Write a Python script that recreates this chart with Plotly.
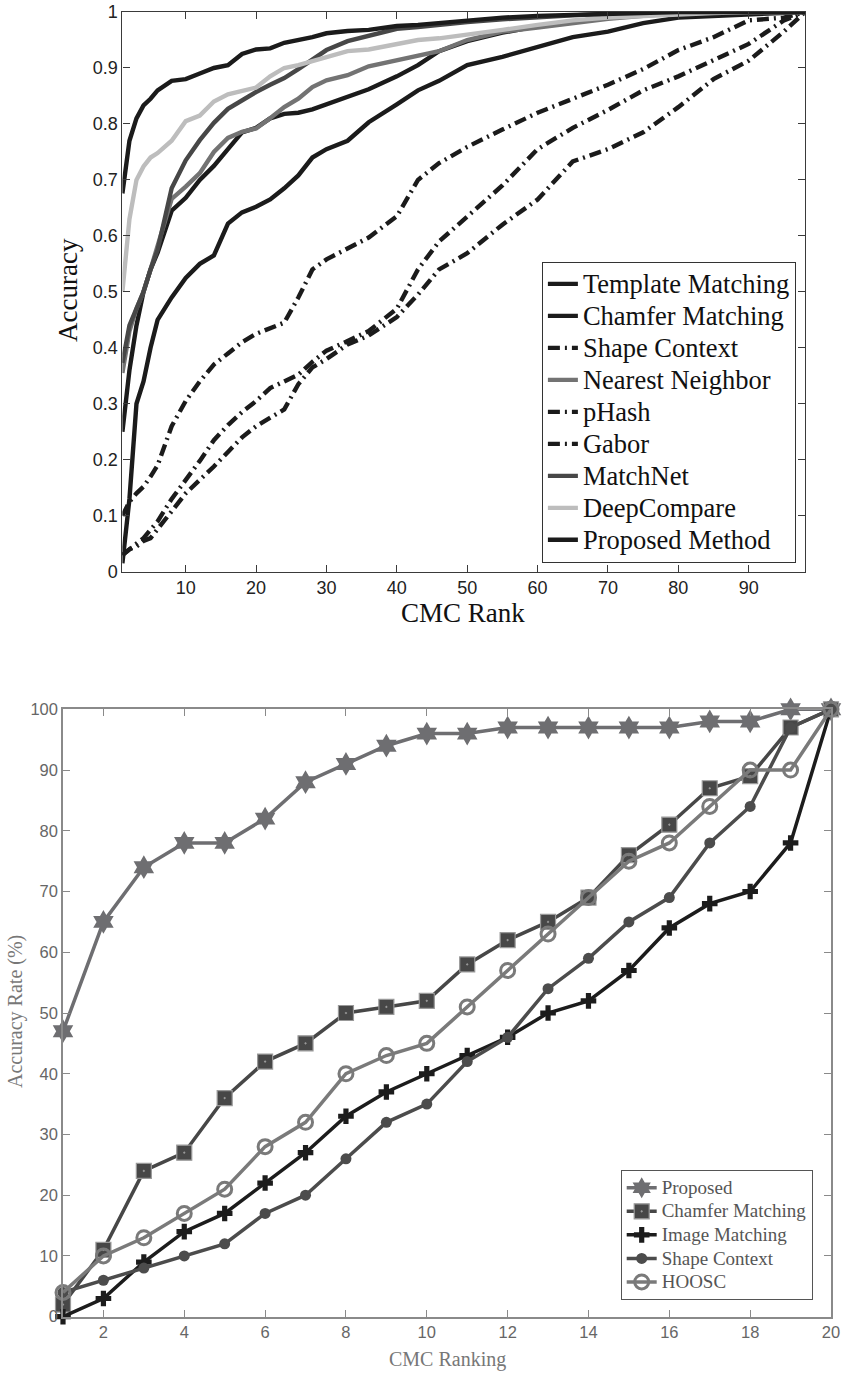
import plotly.graph_objects as go

# ---------------- Top chart data (CMC Rank vs Accuracy) ----------------
rank = [1, 2, 3, 4, 5, 6, 8, 10, 12, 14, 16, 18, 20, 22, 24, 26, 28, 30, 33, 36,
        40, 43, 46, 50, 55, 60, 65, 70, 75, 80, 85, 90, 95, 98]

template_matching = [0.25, 0.36, 0.44, 0.50, 0.54, 0.57, 0.645, 0.668, 0.70, 0.725, 0.755, 0.785,
                     0.793, 0.81, 0.818, 0.82, 0.826, 0.835, 0.848, 0.862, 0.885, 0.905, 0.93,
                     0.948, 0.963, 0.975, 0.983, 0.99, 0.995, 1.0, 1.0, 1.0, 1.0, 1.0]
chamfer_matching = [0.015, 0.13, 0.30, 0.34, 0.40, 0.45, 0.49, 0.525, 0.55, 0.565, 0.622, 0.642,
                    0.652, 0.665, 0.685, 0.708, 0.74, 0.755, 0.77, 0.803, 0.835, 0.86, 0.877,
                    0.905, 0.92, 0.938, 0.955, 0.965, 0.98, 0.99, 0.993, 0.997, 1.0, 1.0]
shape_context = [0.10, 0.125, 0.14, 0.152, 0.17, 0.19, 0.26, 0.305, 0.34, 0.37, 0.39, 0.41,
                 0.425, 0.436, 0.445, 0.49, 0.54, 0.558, 0.578, 0.597, 0.635, 0.70, 0.73,
                 0.759, 0.79, 0.82, 0.845, 0.87, 0.898, 0.932, 0.955, 0.985, 0.99, 1.0]
nearest_neighbor = [0.355, 0.43, 0.47, 0.50, 0.54, 0.58, 0.666, 0.688, 0.712, 0.75, 0.775, 0.786,
                    0.792, 0.81, 0.83, 0.845, 0.866, 0.878, 0.887, 0.903, 0.913, 0.922, 0.93,
                    0.95, 0.965, 0.972, 0.98, 0.988, 0.993, 0.998, 1.0, 1.0, 1.0, 1.0]
phash = [0.03, 0.04, 0.05, 0.06, 0.075, 0.09, 0.13, 0.163, 0.198, 0.235, 0.262, 0.285,
         0.305, 0.328, 0.34, 0.352, 0.375, 0.395, 0.412, 0.43, 0.47, 0.54, 0.59,
         0.634, 0.69, 0.755, 0.793, 0.825, 0.86, 0.885, 0.915, 0.943, 0.985, 1.0]
gabor = [0.03, 0.04, 0.045, 0.055, 0.06, 0.075, 0.108, 0.14, 0.163, 0.188, 0.214, 0.24,
         0.26, 0.275, 0.29, 0.335, 0.365, 0.38, 0.406, 0.422, 0.455, 0.495, 0.54,
         0.569, 0.62, 0.665, 0.733, 0.755, 0.785, 0.83, 0.88, 0.913, 0.965, 1.0]
matchnet = [0.373, 0.44, 0.47, 0.50, 0.54, 0.575, 0.685, 0.735, 0.771, 0.802, 0.827, 0.843,
            0.857, 0.87, 0.882, 0.898, 0.915, 0.932, 0.948, 0.957, 0.97, 0.973, 0.977,
            0.982, 0.987, 0.991, 0.994, 0.997, 1.0, 1.0, 1.0, 1.0, 1.0, 1.0]
deepcompare = [0.50, 0.63, 0.70, 0.724, 0.74, 0.748, 0.77, 0.805, 0.815, 0.84, 0.853, 0.858,
               0.865, 0.885, 0.90, 0.905, 0.912, 0.92, 0.93, 0.933, 0.943, 0.95, 0.953,
               0.959, 0.968, 0.977, 0.985, 0.99, 0.993, 0.996, 0.998, 1.0, 1.0, 1.0]
proposed_method = [0.676, 0.77, 0.81, 0.833, 0.845, 0.86, 0.877, 0.880, 0.89, 0.90, 0.905, 0.925,
                   0.933, 0.935, 0.945, 0.95, 0.955, 0.962, 0.966, 0.968, 0.975, 0.977, 0.98,
                   0.985, 0.99, 0.993, 0.995, 0.997, 0.998, 1.0, 1.0, 1.0, 1.0, 1.0]

top_y_ticks = [0, 0.1, 0.2, 0.3, 0.4, 0.5, 0.6, 0.7, 0.8, 0.9, 1]
top_y_labels = ["0", "0.1", "0.2", "0.3", "0.4", "0.5", "0.6", "0.7", "0.8", "0.9", "1"]
top_x_ticks = [10, 20, 30, 40, 50, 60, 70, 80, 90]

# ---------------- Bottom chart data (CMC Ranking vs Accuracy Rate) ----------------
ranking = list(range(1, 21))
proposed = [47, 65, 74, 78, 78, 82, 88, 91, 94, 96, 96, 97, 97, 97, 97, 97, 98, 98, 100, 100]
chamfer = [2, 11, 24, 27, 36, 42, 45, 50, 51, 52, 58, 62, 65, 69, 76, 81, 87, 89, 97, 100]
image_matching = [0, 3, 9, 14, 17, 22, 27, 33, 37, 40, 43, 46, 50, 52, 57, 64, 68, 70, 78, 100]
shape_ctx = [4, 6, 8, 10, 12, 17, 20, 26, 32, 35, 42, 46, 54, 59, 65, 69, 78, 84, 97, 100]
hoosc = [4, 10, 13, 17, 21, 28, 32, 40, 43, 45, 51, 57, 63, 69, 75, 78, 84, 90, 90, 100]

bot_x_ticks = [2, 4, 6, 8, 10, 12, 14, 16, 18, 20]
bot_y_ticks = [0, 10, 20, 30, 40, 50, 60, 70, 80, 90, 100]

W, H = 844, 1373
SERIF = "Liberation Serif, Times New Roman, serif"
SANS = "Liberation Sans, Arial, Helvetica, sans-serif"
DASHDOT = "12px,5px,2px,5px"


def px_x(v):
    return v / W


def px_y(v):
    return 1 - v / H


def big(name, px):
    return f'<span style="font-size:{px}px">{name}</span>'


fig = go.Figure()

top_series = [
    ("Template Matching", template_matching, "#1b1b1b", "solid"),
    ("Chamfer Matching", chamfer_matching, "#1b1b1b", "solid"),
    ("Shape Context", shape_context, "#1b1b1b", DASHDOT),
    ("Nearest Neighbor", nearest_neighbor, "#737373", "solid"),
    ("pHash", phash, "#1b1b1b", DASHDOT),
    ("Gabor", gabor, "#1b1b1b", DASHDOT),
    ("MatchNet", matchnet, "#474747", "solid"),
    ("DeepCompare", deepcompare, "#bdbdbd", "solid"),
    ("Proposed Method", proposed_method, "#1b1b1b", "solid"),
]
for name, vals, col, dash in top_series:
    fig.add_trace(go.Scatter(
        x=rank, y=vals, name=big(name, 26.5), mode="lines",
        line=dict(color=col, width=4.4, dash=dash),
        xaxis="x", yaxis="y", legend="legend",
    ))

bot_series = [
    ("Proposed", proposed, "#6e6e71", dict(symbol="hexagram", size=18, color="#6e6e71",
                                           line=dict(width=0))),
    ("Chamfer Matching", chamfer, "#474747", dict(symbol="square-dot", size=15, color="#474747",
                                                  line=dict(width=1.2, color="#999999"))),
    ("Image Matching", image_matching, "#1c1c1c", dict(symbol="cross", size=13, color="#1c1c1c",
                                                       line=dict(width=0))),
    ("Shape Context", shape_ctx, "#4c4c4c", dict(symbol="circle", size=11, color="#4c4c4c",
                                                 line=dict(width=0))),
    ("HOOSC", hoosc, "#7a7a7a", dict(symbol="circle-open", size=14, color="#7a7a7a",
                                     line=dict(width=3, color="#7a7a7a"))),
]
for name, vals, col, mk in bot_series:
    fig.add_trace(go.Scatter(
        x=ranking, y=vals, name=big(name, 19), mode="lines+markers",
        line=dict(color=col, width=3.5), marker=mk,
        xaxis="x2", yaxis="y2", legend="legend2", cliponaxis=False,
    ))

# geometry in reference pixels
tx0, tx1, ty0, ty1 = 122.4, 805, 12, 571.7
bx0, bx1, by0, by1 = 63, 831, 709.3, 1316.7

top_axis_common = dict(showline=True, linecolor="#3a3a3a", linewidth=1.2, mirror="ticks",
                       ticks="inside", ticklen=7, tickcolor="#3a3a3a", showgrid=False,
                       zeroline=False, automargin=False, ticklabeloverflow="allow",
                       tickfont=dict(family=SANS, size=18, color="#222222"))
bot_axis_common = dict(showline=True, linecolor="#8a8a8a", linewidth=1.5, mirror="ticks",
                       ticks="inside", ticklen=7, tickcolor="#8a8a8a", showgrid=False,
                       zeroline=False, automargin=False, ticklabeloverflow="allow",
                       tickfont=dict(family=SANS, size=16.5, color="#666666"))

fig.update_layout(
    width=W, height=H, margin=dict(l=0, r=0, t=0, b=0, autoexpand=False),
    paper_bgcolor="white", plot_bgcolor="white",
    xaxis=dict(domain=[px_x(tx0), px_x(tx1)], anchor="y", range=[1, 98],
               tickvals=top_x_ticks, **top_axis_common),
    yaxis=dict(domain=[px_y(ty1), px_y(ty0)], anchor="x", range=[0, 1],
               tickvals=top_y_ticks, ticktext=top_y_labels, **top_axis_common),
    xaxis2=dict(domain=[px_x(bx0), px_x(bx1)], anchor="y2", range=[1, 20],
                tickvals=bot_x_ticks, **bot_axis_common),
    yaxis2=dict(domain=[px_y(by1), px_y(by0)], anchor="x2", range=[0, 100],
                tickvals=bot_y_ticks, **bot_axis_common),
    legend=dict(x=px_x(795.7), y=px_y(562.7), xanchor="right", yanchor="bottom",
                bgcolor="white", bordercolor="#333333", borderwidth=1.2,
                font=dict(family=SERIF, size=22.3, color="#111111"), tracegroupgap=0),
    legend2=dict(x=px_x(812.7), y=px_y(1300), xanchor="right", yanchor="bottom",
                 bgcolor="white", bordercolor="#555555", borderwidth=1,
                 font=dict(family=SERIF, size=15.8, color="#555555"), tracegroupgap=0),
    showlegend=True,
    annotations=[
        dict(text="Accuracy", x=px_x(68), y=px_y(290), xref="paper", yref="paper",
             xanchor="center", yanchor="middle",
             textangle=-90, showarrow=False, font=dict(family=SERIF, size=27, color="#111111")),
        dict(text="CMC Rank", x=px_x(463), y=px_y(613), xref="paper", yref="paper",
             xanchor="center", yanchor="middle",
             showarrow=False, font=dict(family=SERIF, size=27, color="#111111")),
        dict(text="Accuracy Rate (%)", x=px_x(15), y=px_y(1012), xref="paper", yref="paper",
             xanchor="center", yanchor="middle",
             textangle=-90, showarrow=False, font=dict(family=SERIF, size=20, color="#777777")),
        dict(text="CMC Ranking", x=px_x(447), y=px_y(1359), xref="paper", yref="paper",
             xanchor="center", yanchor="middle",
             showarrow=False, font=dict(family=SERIF, size=20, color="#777777")),
    ],
)

# remove the browser's default 8px page margin so the figure fills the window exactly
fig.write_html("out.html", config={"displayModeBar": False},
               post_script="document.body.style.margin='0px';")
